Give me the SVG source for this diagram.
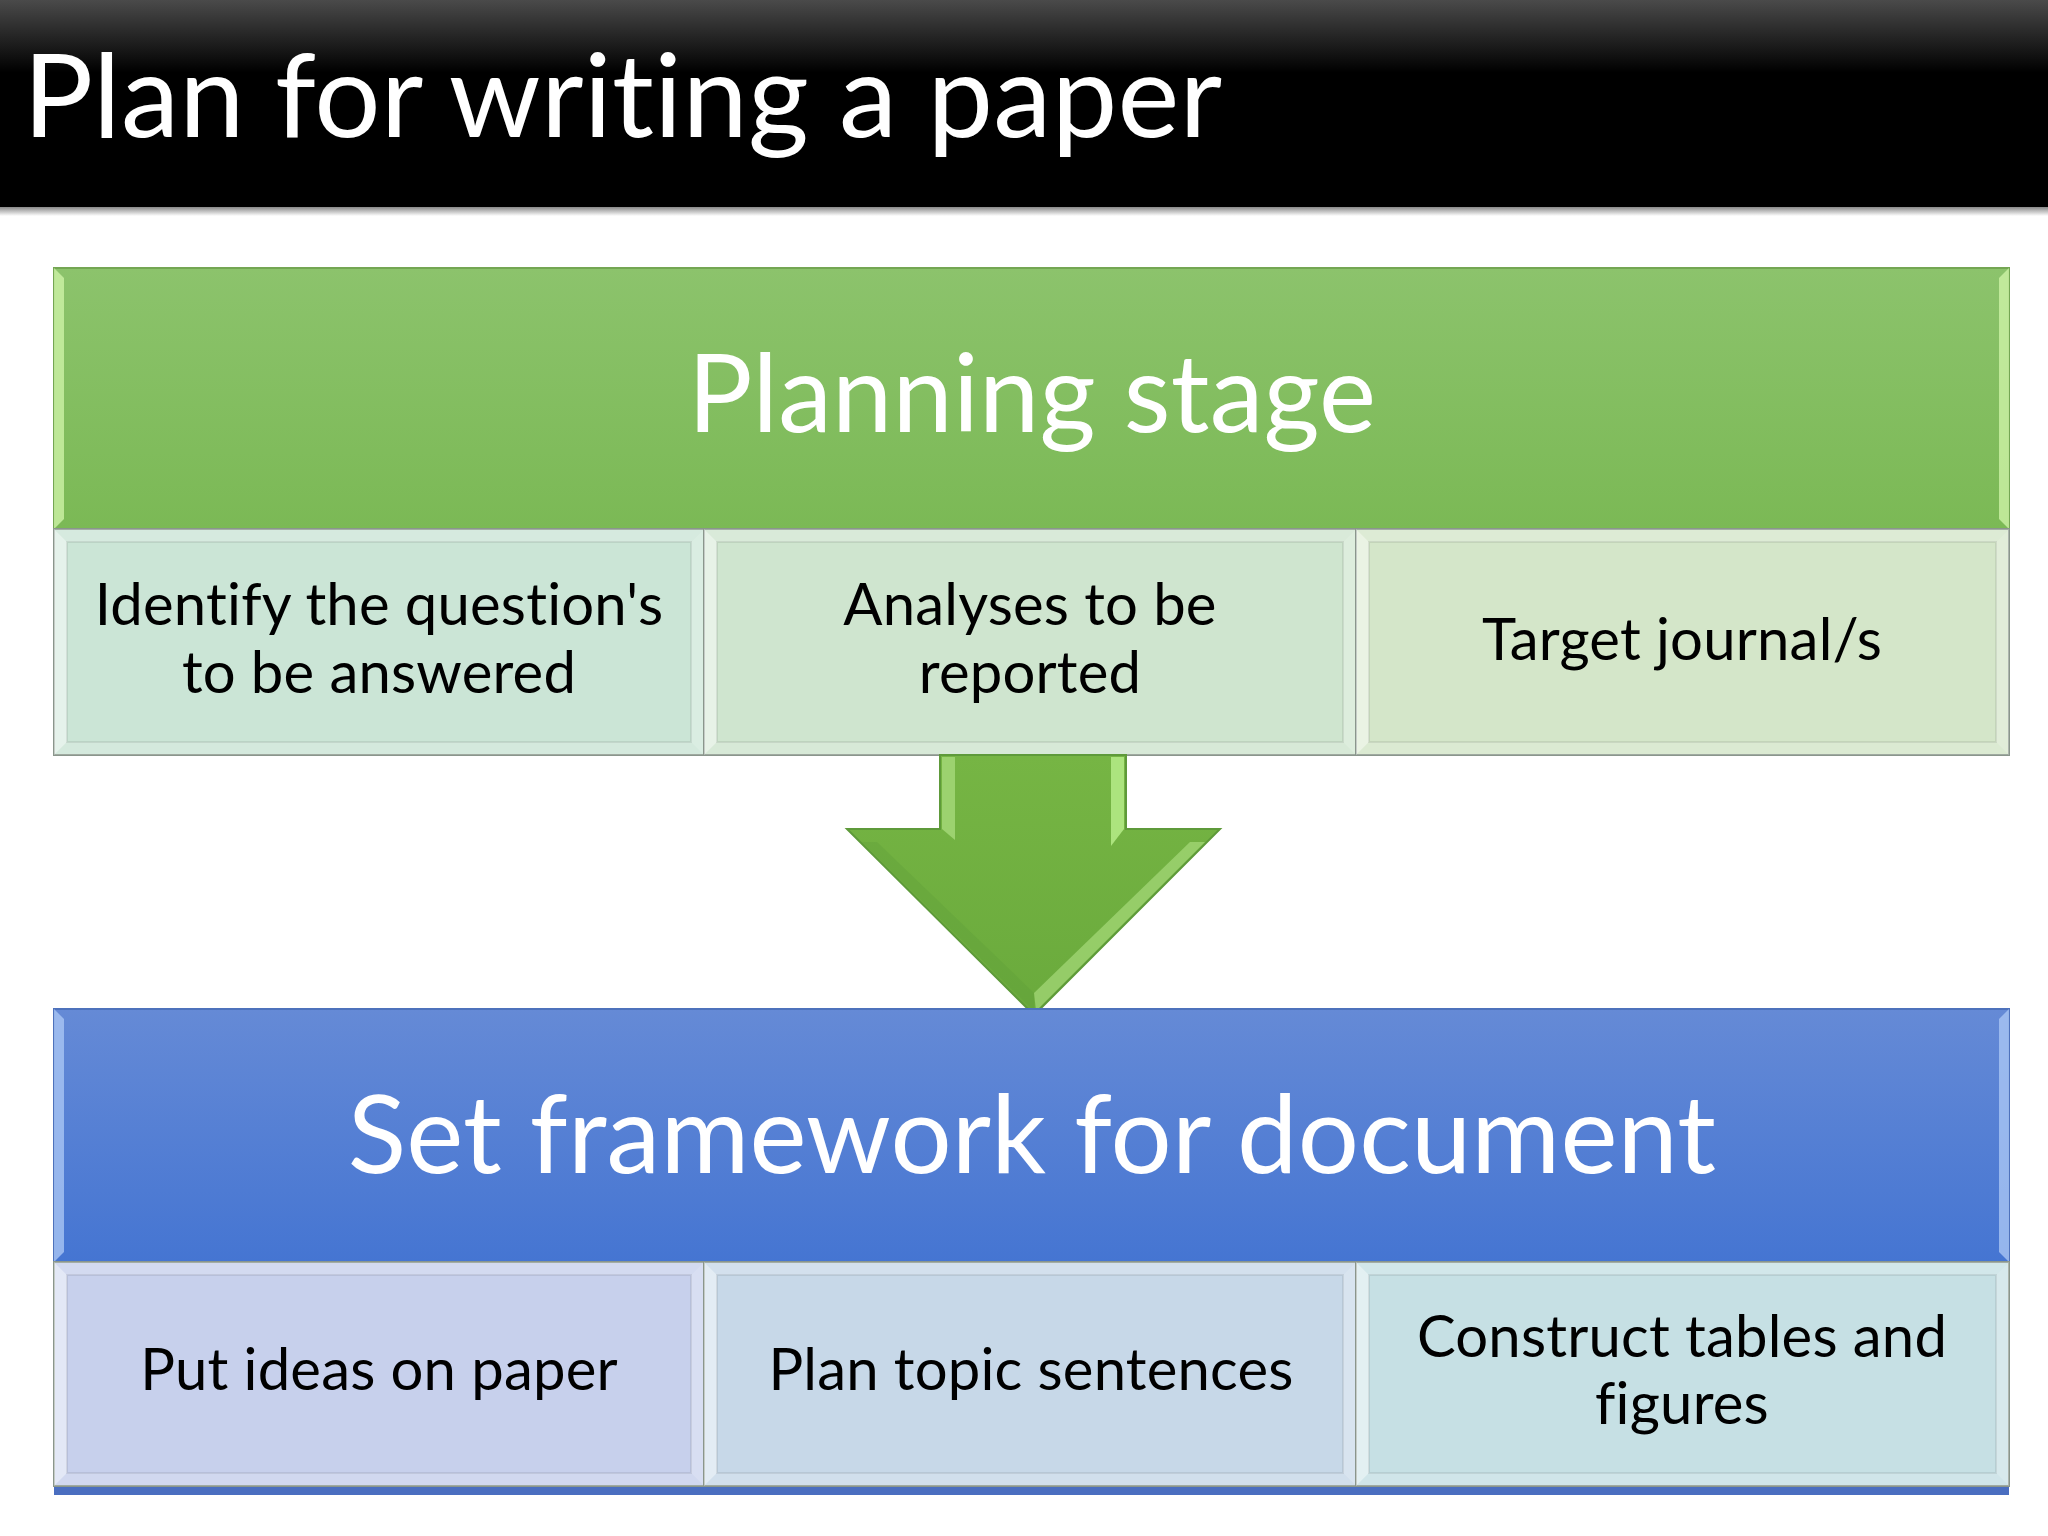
<svg xmlns="http://www.w3.org/2000/svg" width="2048" height="1536" viewBox="0 0 2048 1536">
  <defs>
    <linearGradient id="gTitle" x1="0" y1="0" x2="0" y2="1">
      <stop offset="0" stop-color="#4a4a4a"/>
      <stop offset="0.35" stop-color="#000"/>
      <stop offset="1" stop-color="#000"/>
    </linearGradient>
    <linearGradient id="gShadow" x1="0" y1="0" x2="0" y2="1">
      <stop offset="0" stop-color="#888"/>
      <stop offset="1" stop-color="#fff"/>
    </linearGradient>
    <linearGradient id="gGreen" x1="0" y1="0" x2="0" y2="1">
      <stop offset="0" stop-color="#8CC36C"/>
      <stop offset="1" stop-color="#7BB955"/>
    </linearGradient>
    <linearGradient id="gBlue" x1="0" y1="0" x2="0" y2="1">
      <stop offset="0" stop-color="#658AD6"/>
      <stop offset="1" stop-color="#4575D2"/>
    </linearGradient>
    <linearGradient id="gArrow" x1="0" y1="0" x2="0" y2="1">
      <stop offset="0" stop-color="#76B544"/>
      <stop offset="1" stop-color="#6AAA3C"/>
    </linearGradient>
  </defs>
  <style>
    text { font-variant-ligatures: none; font-feature-settings: "liga" 0, "clig" 0, "dlig" 0, "calt" 0; letter-spacing: 0.2px; }
    .title { font-family: Lato, "Open Sans", sans-serif; font-size: 117px; fill: #fff; }
    .head { font-family: Lato, "Open Sans", sans-serif; font-size: 108px; fill: #fff; text-anchor: middle; }
    .sub { font-family: Lato, "Open Sans", sans-serif; font-size: 58px; fill: #000; text-anchor: middle; }
    .hdrG { fill: url(#gGreen); stroke: #74A653; stroke-width: 2; }
    .hdrB { fill: url(#gBlue); stroke: #4E72BC; stroke-width: 2; }
    .subBox { stroke: #8A968C; stroke-width: 2; }
    .bl { fill: #ffffff; opacity: 0.5; }
    .bt { fill: #ffffff; opacity: 0.22; }
    .br { fill: #ffffff; opacity: 0.3; }
    .bb { fill: #ffffff; opacity: 0.18; }
    .inner { fill: none; stroke: #000; stroke-opacity: 0.08; stroke-width: 2; }
    .hlG { fill: #CDF3A6; opacity: 0.8; }
    .hlB { fill: #A9C6F4; opacity: 0.8; }
  </style>

  <rect width="2048" height="1536" fill="#fff"/>

  <g id="title">
    <rect x="0" y="0" width="2048" height="207" fill="url(#gTitle)"/>
    <rect x="0" y="207" width="2048" height="9" fill="url(#gShadow)"/>
    <text class="title" x="23" y="137">Plan for writing a paper</text>
  </g>

  <g id="planning-stage">
    <rect class="hdrG" x="54" y="268" width="1955" height="261"/>
    <polygon class="hlG" points="54,268 64,278 64,519 54,529"/>
    <polygon class="hlG" points="2009,268 1999,278 1999,519 2009,529"/>
    <text class="head" x="1032" y="432">Planning stage</text>
  </g>

  <g id="identify-questions">
    <rect class="subBox" x="54" y="529" width="650" height="226" fill="#CBE5D6"/>
    <polygon class="bl" points="54,529 67,542 67,742 54,755"/>
    <polygon class="bt" points="54,529 704,529 691,542 67,542"/>
    <polygon class="br" points="704,529 704,755 691,742 691,542"/>
    <polygon class="bb" points="54,755 67,742 691,742 704,755"/>
    <rect class="inner" x="67" y="542" width="624" height="200"/>
    <text class="sub" x="379" y="625">Identify the question's</text>
    <text class="sub" x="379" y="693">to be answered</text>
  </g>

  <g id="analyses">
    <rect class="subBox" x="704" y="529" width="652" height="226" fill="#CFE5CF"/>
    <polygon class="bl" points="704,529 717,542 717,742 704,755"/>
    <polygon class="bt" points="704,529 1356,529 1343,542 717,542"/>
    <polygon class="br" points="1356,529 1356,755 1343,742 1343,542"/>
    <polygon class="bb" points="704,755 717,742 1343,742 1356,755"/>
    <rect class="inner" x="717" y="542" width="626" height="200"/>
    <text class="sub" x="1030" y="625">Analyses to be</text>
    <text class="sub" x="1030" y="693">reported</text>
  </g>

  <g id="target-journal">
    <rect class="subBox" x="1356" y="529" width="653" height="226" fill="#D4E6C9"/>
    <polygon class="bl" points="1356,529 1369,542 1369,742 1356,755"/>
    <polygon class="bt" points="1356,529 2009,529 1996,542 1369,542"/>
    <polygon class="br" points="2009,529 2009,755 1996,742 1996,542"/>
    <polygon class="bb" points="1356,755 1369,742 1996,742 2009,755"/>
    <rect class="inner" x="1369" y="542" width="627" height="200"/>
    <text class="sub" x="1682" y="660">Target journal/s</text>
  </g>

  <g id="connectors">
    <polygon points="940,755 1126,755 1126,829 1220,829 1034,1015 847,829 940,829" fill="url(#gArrow)" stroke="#5E9A3A" stroke-width="2"/>
    <polygon points="942,757 955,757 955,840 942,829" fill="#A6DA7A" opacity="0.8"/>
    <polygon points="1111,757 1124,757 1124,829 1111,846" fill="#B6EC88" opacity="0.85"/>
    <polygon points="1190,842 1205,842 1036,1011 1034,993" fill="#A6DA7A" opacity="0.7"/>
    <polygon points="862,842 877,842 1034,993 1034,1011" fill="#5E9E38" opacity="0.35"/>
  </g>

  <g id="set-framework">
    <rect class="hdrB" x="54" y="1009" width="1955" height="253"/>
    <polygon class="hlB" points="54,1009 64,1019 64,1252 54,1262"/>
    <polygon class="hlB" points="2009,1009 1999,1019 1999,1252 2009,1262"/>
    <text class="head" x="1032" y="1173">Set framework for document</text>
  </g>

  <rect x="54" y="1486" width="1955" height="9" fill="#4A6EC0"/>

  <g id="put-ideas">
    <rect class="subBox" x="54" y="1262" width="650" height="224" fill="#C7D0EC"/>
    <polygon class="bl" points="54,1262 67,1275 67,1473 54,1486"/>
    <polygon class="bt" points="54,1262 704,1262 691,1275 67,1275"/>
    <polygon class="br" points="704,1262 704,1486 691,1473 691,1275"/>
    <polygon class="bb" points="54,1486 67,1473 691,1473 704,1486"/>
    <rect class="inner" x="67" y="1275" width="624" height="198"/>
    <text class="sub" x="379" y="1390">Put ideas on paper</text>
  </g>

  <g id="plan-topic">
    <rect class="subBox" x="704" y="1262" width="652" height="224" fill="#C7D8E8"/>
    <polygon class="bl" points="704,1262 717,1275 717,1473 704,1486"/>
    <polygon class="bt" points="704,1262 1356,1262 1343,1275 717,1275"/>
    <polygon class="br" points="1356,1262 1356,1486 1343,1473 1343,1275"/>
    <polygon class="bb" points="704,1486 717,1473 1343,1473 1356,1486"/>
    <rect class="inner" x="717" y="1275" width="626" height="198"/>
    <text class="sub" x="1031" y="1390">Plan topic sentences</text>
  </g>

  <g id="construct-tables">
    <rect class="subBox" x="1356" y="1262" width="653" height="224" fill="#C6E0E4"/>
    <polygon class="bl" points="1356,1262 1369,1275 1369,1473 1356,1486"/>
    <polygon class="bt" points="1356,1262 2009,1262 1996,1275 1369,1275"/>
    <polygon class="br" points="2009,1262 2009,1486 1996,1473 1996,1275"/>
    <polygon class="bb" points="1356,1486 1369,1473 1996,1473 2009,1486"/>
    <rect class="inner" x="1369" y="1275" width="627" height="198"/>
    <text class="sub" x="1682" y="1357">Construct tables and</text>
    <text class="sub" x="1682" y="1424">figures</text>
  </g>
</svg>
